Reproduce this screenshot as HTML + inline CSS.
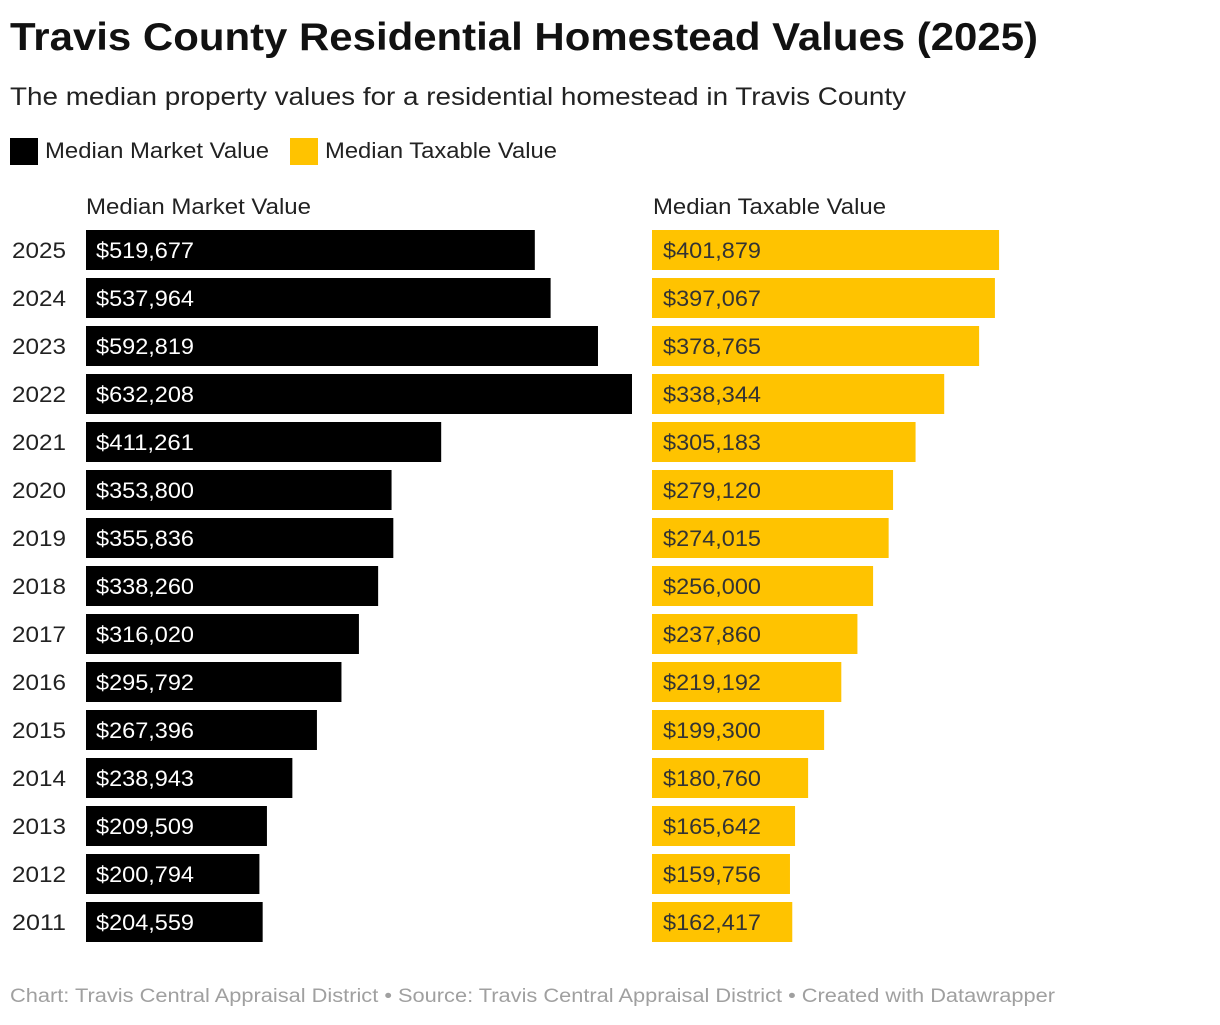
<!DOCTYPE html>
<html><head><meta charset="utf-8">
<style>
body{margin:0;background:#fff;width:1220px;height:1020px;overflow:hidden;font-family:"Liberation Sans",sans-serif;}
svg text{font-family:"Liberation Sans",sans-serif;}
</style></head>
<body>
<svg id="chart" width="1220" height="1020">
<text x="10" y="50" font-size="39" font-weight="bold" fill="#111" textLength="1028" lengthAdjust="spacingAndGlyphs">Travis County Residential Homestead Values (2025)</text>
<text x="10" y="105" font-size="25" fill="#222" textLength="896" lengthAdjust="spacingAndGlyphs">The median property values for a residential homestead in Travis County</text>
<g>
<rect x="10" y="138" width="28" height="27" fill="#000"/>
<text x="45" y="158" font-size="22" fill="#222" textLength="224" lengthAdjust="spacingAndGlyphs">Median Market Value</text>
<rect x="290" y="138" width="28" height="27" fill="#ffc300"/>
<text x="325" y="158" font-size="22" fill="#222" textLength="232" lengthAdjust="spacingAndGlyphs">Median Taxable Value</text>
</g>
<text x="86" y="214" font-size="22" fill="#222" textLength="225" lengthAdjust="spacingAndGlyphs">Median Market Value</text>
<text x="653" y="214" font-size="22" fill="#222" textLength="233" lengthAdjust="spacingAndGlyphs">Median Taxable Value</text>
<g id="rows"></g>
<text x="10" y="1002" font-size="19" fill="#a0a0a0" textLength="1045" lengthAdjust="spacingAndGlyphs">Chart: Travis Central Appraisal District • Source: Travis Central Appraisal District • Created with Datawrapper</text>
</svg>
<script>
const years=[2025,2024,2023,2022,2021,2020,2019,2018,2017,2016,2015,2014,2013,2012,2011];
const marketValues=[519677,537964,592819,632208,411261,353800,355836,338260,316020,295792,267396,238943,209509,200794,204559];
const taxableValues=[401879,397067,378765,338344,305183,279120,274015,256000,237860,219192,199300,180760,165642,159756,162417];
const maxV=Math.max(...marketValues,...taxableValues);
const xScale=v=>v/maxV*546;
const yScale=i=>230+i*48;
const ns="http://www.w3.org/2000/svg";
const g=document.getElementById('rows');
const fmt=v=>'$'+v.toLocaleString('en-US');
function mk(tag,attrs,txt){const e=document.createElementNS(ns,tag);for(const k in attrs)e.setAttribute(k,attrs[k]);if(txt!=null)e.textContent=txt;g.appendChild(e);return e;}
years.forEach((y,i)=>{
  const top=yScale(i);
  const yl=mk('text',{x:12,y:top+28,'font-size':22,fill:'#222',textLength:54,lengthAdjust:'spacingAndGlyphs'},String(y));
  
  
  const b1=mk('rect',{x:86,y:top,width:xScale(marketValues[i]),height:40,fill:'#000'});
  
  
  const t1=mk('text',{x:96,y:top+28,'font-size':22,fill:'#fff',textLength:98,lengthAdjust:'spacingAndGlyphs'},fmt(marketValues[i]));
  
  
  const b2=mk('rect',{x:652,y:top,width:xScale(taxableValues[i]),height:40,fill:'#ffc300'});
  
  
  const t2=mk('text',{x:663,y:top+28,'font-size':22,fill:'#333',textLength:98,lengthAdjust:'spacingAndGlyphs'},fmt(taxableValues[i]));
  
  
});
</script>
</body></html>
